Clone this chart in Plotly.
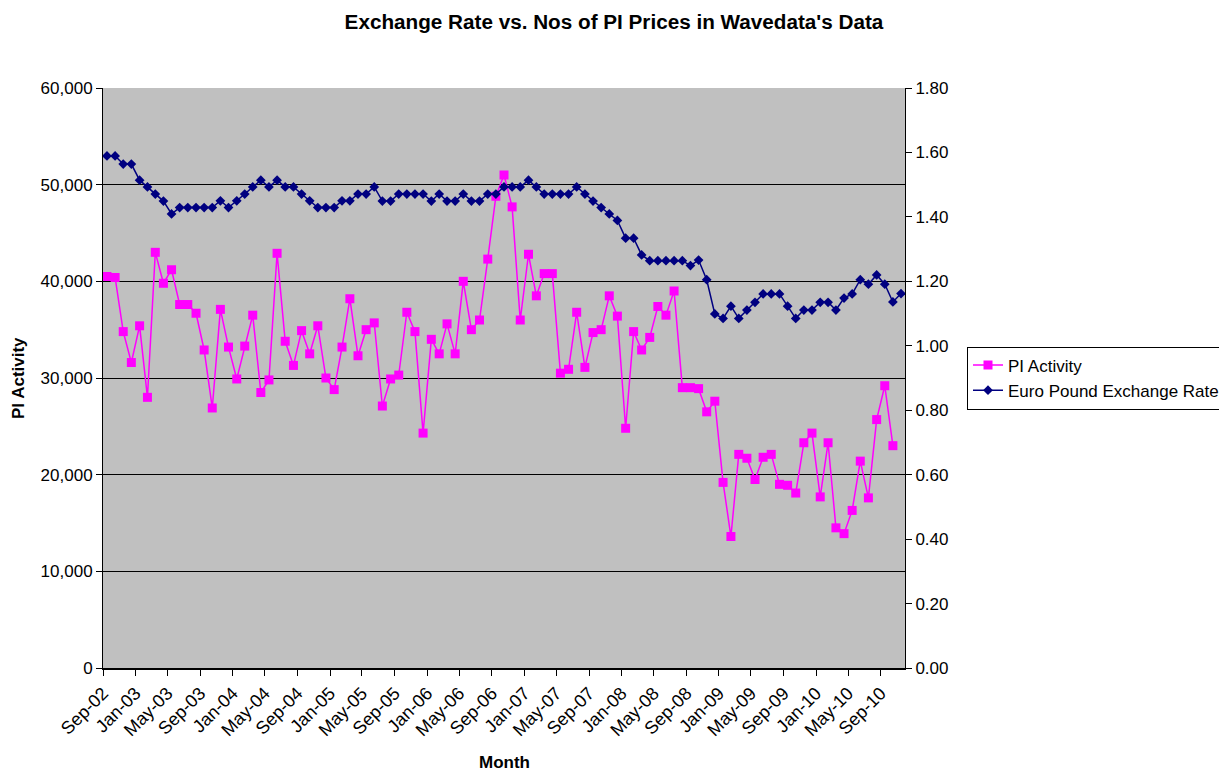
import plotly.graph_objects as go

# Month categories (Sep-02 .. Nov-10)
start_year, start_month = 2002, 9
months = []
for k in range(99):
    m = start_month - 1 + k
    months.append(f"{start_year + m // 12}-{m % 12 + 1:02d}-01")

pi_activity = [
    40500, 40400, 34800, 31600, 35400, 28000, 43000, 39800, 41200, 37600,
    37600, 36700, 32900, 26900, 37100, 33200, 29900, 33300, 36500, 28500,
    29800, 42900, 33800, 31300, 34900, 32500, 35400, 30000, 28800, 33200,
    38200, 32300, 35000, 35700, 27100, 29900, 30300, 36800, 34800, 24300,
    34000, 32500, 35600, 32500, 40000, 35000, 36000, 42300, 48800, 51000,
    47700, 36000, 42800, 38500, 40800, 40800, 30500, 30900, 36800, 31100,
    34700, 35000, 38500, 36400, 24800, 34800, 32900, 34200, 37400, 36500,
    39000, 29000, 29000, 28900, 26500, 27600, 19200, 13600, 22100, 21700,
    19500, 21800, 22100, 19000, 18900, 18100, 23300, 24300, 17700, 23300,
    14500, 13900, 16300, 21400, 17600, 25700, 29200, 23000,
]

exchange_rate = [
    1.589, 1.589, 1.564, 1.564, 1.514, 1.493, 1.471, 1.449, 1.409, 1.429,
    1.429, 1.429, 1.429, 1.429, 1.450, 1.429, 1.450, 1.471, 1.493, 1.514,
    1.493, 1.514, 1.493, 1.493, 1.471, 1.450, 1.429, 1.429, 1.429, 1.450,
    1.450, 1.471, 1.471, 1.493, 1.449, 1.449, 1.471, 1.471, 1.471, 1.471,
    1.449, 1.471, 1.449, 1.449, 1.471, 1.449, 1.449, 1.471, 1.471, 1.493,
    1.493, 1.493, 1.514, 1.493, 1.471, 1.471, 1.471, 1.471, 1.493, 1.471,
    1.449, 1.429, 1.409, 1.389, 1.334, 1.334, 1.282, 1.264, 1.264, 1.264,
    1.264, 1.264, 1.249, 1.266, 1.205, 1.099, 1.085, 1.123, 1.085, 1.111,
    1.135, 1.161, 1.161, 1.161, 1.123, 1.085, 1.111, 1.111, 1.135, 1.135,
    1.111, 1.148, 1.161, 1.205, 1.191, 1.220, 1.191, 1.136, 1.162,
]

FONT = "Liberation Sans, Arial, sans-serif"

# page offset of the figure inside the browser window (body margin)
OFF = 8
PLOT_L, PLOT_R, PLOT_T, PLOT_B = 103, 905, 88, 668   # target plot box in window px
W = 1240                      # wider than the window so the legend can run off the edge
H = 771 - OFF
L, T = PLOT_L - OFF, PLOT_T - OFF
R = W - (PLOT_R - OFF)
B = H - (PLOT_B - OFF)
PW, PH = PLOT_R - PLOT_L, PLOT_B - PLOT_T

fig = go.Figure()
fig.add_trace(go.Scatter(
    x=months[:len(pi_activity)], y=pi_activity, name="PI Activity",
    mode="lines+markers", xperiod="M1", xperiodalignment="middle",
    line=dict(color="#FF00FF", width=1.5),
    marker=dict(symbol="square", size=9, color="#FF00FF"),
    yaxis="y",
))
fig.add_trace(go.Scatter(
    x=months, y=exchange_rate, name="Euro Pound Exchange Rate",
    mode="lines+markers", xperiod="M1", xperiodalignment="middle",
    line=dict(color="#000080", width=1.5),
    marker=dict(symbol="diamond", size=7.5, color="#000080"),
    yaxis="y2",
))

fig.update_layout(
    width=W, height=H,
    margin=dict(l=L, r=R, t=T, b=B, pad=0),
    paper_bgcolor="white", plot_bgcolor="#C0C0C0",
    font=dict(family=FONT, size=16, color="black"),
    title=dict(text="<b>Exchange Rate vs. Nos of PI Prices in Wavedata's Data</b>",
               x=(614 - OFF) / W, xref="container", xanchor="center",
               y=1 - (22 - OFF) / H, yref="container", yanchor="middle",
               font=dict(size=20.7, family=FONT, color="black")),
    showlegend=True,
    legend=dict(x=(967 - PLOT_L) / PW, xanchor="left",
                y=(PLOT_B - 378) / PH, yanchor="middle",
                bgcolor="white", bordercolor="black", borderwidth=1,
                font=dict(size=17, family=FONT, color="black"),
                tracegroupgap=0),
    xaxis=dict(type="date", range=["2002-09-01", "2010-12-01"],
               tick0="2002-09-01", dtick="M4", tickformat="%b-%y",
               tickangle=-45, ticks="outside", ticklen=6, tickcolor="black",
               showline=True, linecolor="black", linewidth=1.5,
               showgrid=False, zeroline=False,
               tickfont=dict(size=18, family=FONT, color="black")),
    yaxis=dict(range=[0, 60000], dtick=10000, tickformat=",",
               ticks="outside", ticklen=6, tickcolor="black",
               showline=True, linecolor="black", linewidth=1,
               showgrid=True, gridcolor="black", gridwidth=1,
               zeroline=False,
               tickfont=dict(size=17, family=FONT, color="black")),
    yaxis2=dict(range=[0, 1.8], dtick=0.2, tickformat=".2f",
                overlaying="y", side="right",
                ticks="outside", ticklen=6, tickcolor="black",
                showline=True, linecolor="black", linewidth=1,
                showgrid=False, zeroline=False,
                tickfont=dict(size=17, family=FONT, color="black")),
    annotations=[
        dict(text="<b>PI Activity</b>", textangle=-90, x=(18 - PLOT_L) / PW, y=0.5,
             xref="paper", yref="paper", xanchor="center", yanchor="middle",
             showarrow=False, font=dict(size=17, family=FONT, color="black")),
        dict(text="<b>Month</b>", x=(504 - PLOT_L) / PW, y=-(762 - PLOT_B) / PH,
             xref="paper", yref="paper", xanchor="center", yanchor="middle",
             showarrow=False, font=dict(size=17, family=FONT, color="black")),
    ],
)

fig.write_html("out.html")
